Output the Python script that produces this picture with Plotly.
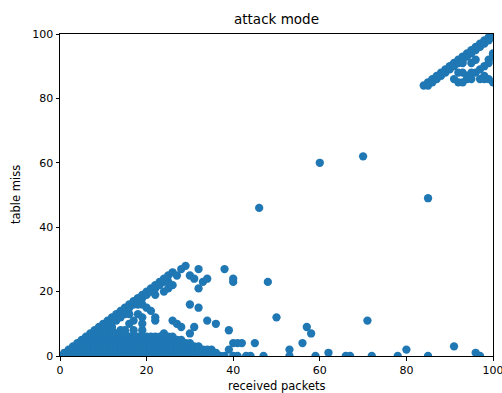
import plotly.graph_objects as go

# ---- data ----
# dense region: x value and the list of y values found at that x
dense_x = [0, 1, 2, 3, 4, 5, 6, 7, 8, 9, 10, 11, 12, 13, 14, 15, 16, 17, 18, 19,
           20, 21, 22, 23, 24, 25, 26, 27, 28, 29, 30, 31, 32, 33, 34, 35, 36, 37, 38, 39,
           40, 41, 42, 43, 44, 45]
dense_y = [
    [0],
    [0, 1],
    [0, 1, 2],
    [0, 1, 2, 3],
    [0, 1, 2, 3, 4],
    [0, 1, 2, 3, 4, 5],
    [0, 1, 2, 3, 4, 5, 6],
    [0, 1, 2, 3, 4, 5, 6, 7],
    [0, 1, 2, 3, 4, 5, 6, 7, 8],
    [0, 1, 2, 3, 4, 5, 6, 7, 8, 9],
    [0, 1, 2, 3, 4, 5, 6, 7, 9, 10],
    [0, 1, 2, 3, 4, 5, 6, 7, 8, 10, 11],
    [0, 1, 2, 3, 4, 5, 6, 7, 8, 9, 11, 12],
    [0, 1, 2, 3, 4, 5, 6, 7, 11, 12, 13],
    [0, 1, 2, 3, 4, 5, 6, 7, 8, 12, 13, 14],
    [0, 1, 2, 3, 4, 5, 6, 7, 8, 13, 14, 15],
    [0, 1, 2, 3, 4, 5, 6, 10, 13, 15, 16],
    [0, 1, 2, 3, 4, 5, 6, 8, 11, 16, 17],
    [0, 1, 2, 3, 4, 5, 6, 13, 16, 17, 18],
    [0, 1, 2, 3, 4, 5, 6, 8, 10, 12, 16, 18, 19],
    [0, 1, 2, 3, 4, 5, 6, 15, 19, 20],
    [0, 1, 2, 3, 4, 5, 6, 14, 20, 21],
    [0, 1, 2, 3, 4, 5, 6, 11, 12, 19, 21, 22],
    [0, 1, 2, 3, 4, 5, 6, 22, 23],
    [0, 1, 2, 3, 4, 5, 6, 7, 20, 23, 24],
    [0, 1, 2, 3, 4, 5, 6, 21, 23, 25],
    [0, 1, 2, 3, 4, 5, 6, 11, 22, 26],
    [0, 1, 2, 3, 4, 5, 10, 25],
    [0, 1, 2, 3, 4, 5, 9, 27],
    [0, 1, 2, 3, 4, 28],
    [0, 1, 2, 3, 4, 7, 16, 25],
    [0, 1, 2, 3, 9, 24],
    [0, 1, 2, 3, 15, 21, 27],
    [0, 1, 2, 23],
    [0, 1, 2, 11, 24],
    [0, 1, 2],
    [0, 1, 10],
    [0],
    [0, 27],
    [2, 8],
    [0, 4, 23, 24],
    [0, 4],
    [4],
    [0],
    [0],
    [4],
]

# isolated points in the middle and lower right
sparse_x = [46, 47, 48, 50, 53, 53, 56, 57, 58, 59, 60, 62, 66, 67, 70, 71, 72, 78, 80, 85, 85, 91, 96, 97]
sparse_y = [46, 0, 23, 12, 0, 2, 4, 9, 7, 0, 60, 1, 0, 0, 62, 11, 0, 0, 2, 0, 49, 3, 1, 0]

# upper right cluster
upper_x = [84, 85, 86, 87, 88, 89, 90, 91, 92, 93, 94, 95, 96, 97, 98, 99, 100,
           85, 86, 87, 88, 89, 90, 91, 92, 93, 94, 95, 96, 97, 98, 99, 100,
           93, 95, 96, 99, 100, 100, 99, 98, 92, 93, 95, 96, 97, 98, 94,
           91, 92, 93, 94, 95, 97, 98, 99, 100]
upper_y = [84, 85, 86, 87, 88, 89, 90, 91, 92, 93, 94, 95, 96, 97, 98, 99, 100,
           84, 85, 86, 87, 88, 89, 90, 91, 92, 93, 94, 95, 96, 97, 98, 99,
           91, 91, 92, 92, 94, 93, 91, 90, 88, 88, 88, 88, 89, 87, 87,
           86, 85, 85, 86, 86, 86, 86, 86, 85]

x_ticks = [0, 20, 40, 60, 80, 100]
y_ticks = [0, 20, 40, 60, 80, 100]

# ---- build point table ----
xs, ys = [], []
for xv, col in zip(dense_x, dense_y):
    for yv in col:
        xs.append(xv)
        ys.append(yv)
xs += sparse_x + upper_x
ys += sparse_y + upper_y

FONT = "DejaVu Sans"
fig = go.Figure()
fig.add_trace(go.Scatter(
    x=xs, y=ys, mode="markers",
    marker=dict(color="#1f77b4", size=8.3, line=dict(width=0)),
    cliponaxis=True, showlegend=False, hoverinfo="skip",
))

W, H = 502, 393
L, R, T, B = 60, 9, 34, 37
pw, ph = W - L - R, H - T - B

axis_common = dict(
    range=[0, 100], showgrid=False, zeroline=False,
    showline=True, linecolor="black", linewidth=1, mirror=True,
    ticks="outside", ticklen=3.5, tickwidth=1, tickcolor="black",
    tickfont=dict(family=FONT, size=11, color="black"),
    tickmode="array", ticklabeloverflow="allow", automargin=False,
)
fig.update_layout(
    width=W, height=H,
    margin=dict(l=L, r=R, t=T, b=B, pad=0, autoexpand=False),
    paper_bgcolor="white", plot_bgcolor="white",
    xaxis=dict(axis_common, tickvals=x_ticks, ticktext=[str(v) for v in x_ticks]),
    yaxis=dict(axis_common, tickvals=y_ticks, ticktext=[str(v) for v in y_ticks]),
    title=dict(text="attack mode", font=dict(family=FONT, size=13.5, color="black"),
               x=0.5, xref="paper", xanchor="center",
               y=1 - 19 / H, yref="container", yanchor="middle"),
    annotations=[
        dict(text="received packets", xref="paper", yref="paper",
             x=0.5, y=(356 - 386) / ph, xanchor="center", yanchor="middle",
             showarrow=False, font=dict(family=FONT, size=11.5, color="black")),
        dict(text="table miss", xref="paper", yref="paper",
             x=(16 - L) / pw, y=0.5, xanchor="center", yanchor="middle",
             textangle=-90, showarrow=False,
             font=dict(family=FONT, size=11.5, color="black")),
    ],
)
fig.write_html("out.html")
